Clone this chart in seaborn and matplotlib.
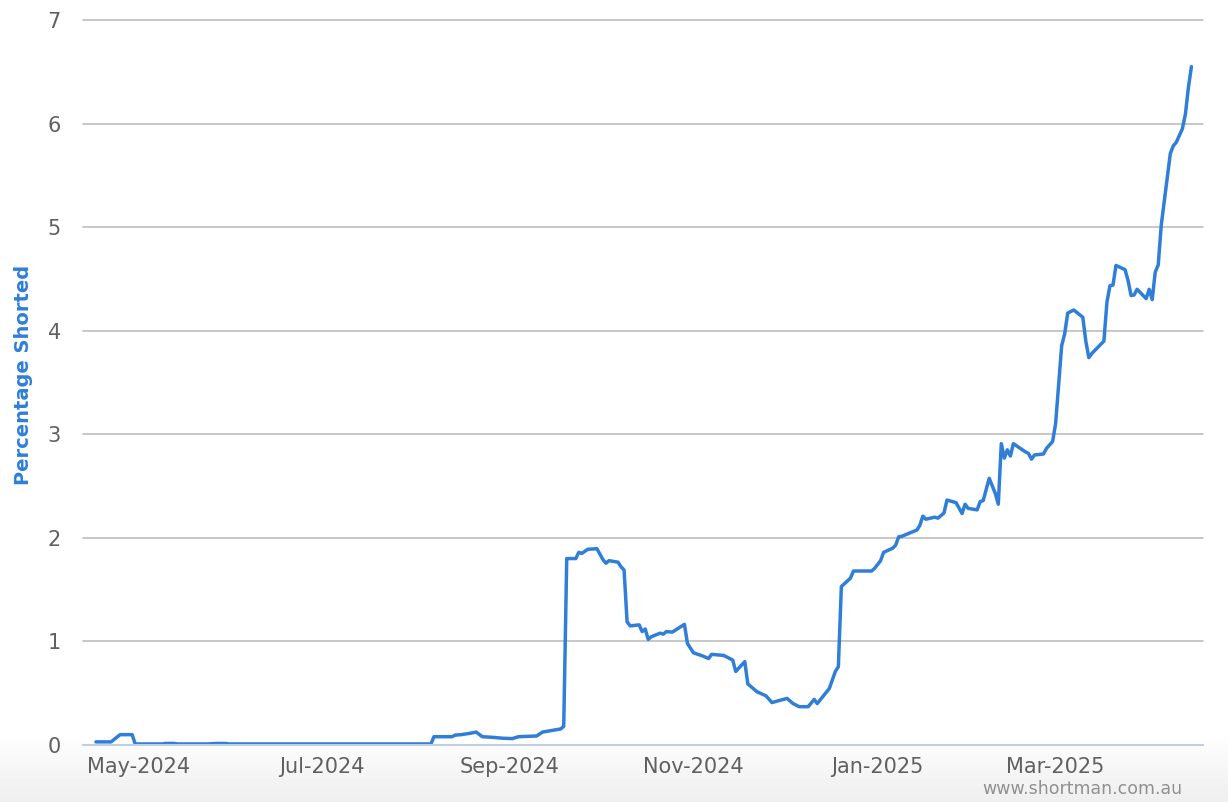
import pandas as pd
import numpy as np
import matplotlib.pyplot as plt
import seaborn as sns

# Series
dates = [
    "2024-04-17", "2024-04-22", "2024-04-25", "2024-04-29", "2024-04-30",
    "2024-05-09", "2024-05-10", "2024-05-13", "2024-05-14",
    "2024-05-24", "2024-05-27", "2024-05-30", "2024-05-31",
    "2024-08-06", "2024-08-07", "2024-08-13", "2024-08-14", "2024-08-16",
    "2024-08-19", "2024-08-21", "2024-08-23", "2024-08-26", "2024-08-30",
    "2024-09-02", "2024-09-04", "2024-09-10", "2024-09-12", "2024-09-16",
    "2024-09-18", "2024-09-19", "2024-09-20", "2024-09-23", "2024-09-24",
    "2024-09-25", "2024-09-27", "2024-09-30", "2024-10-02", "2024-10-03",
    "2024-10-04", "2024-10-07", "2024-10-08", "2024-10-09", "2024-10-10",
    "2024-10-11", "2024-10-14", "2024-10-15", "2024-10-16", "2024-10-17",
    "2024-10-18", "2024-10-21", "2024-10-22", "2024-10-23", "2024-10-25",
    "2024-10-29", "2024-10-30", "2024-11-01", "2024-11-04", "2024-11-06",
    "2024-11-07", "2024-11-11", "2024-11-14", "2024-11-15", "2024-11-18",
    "2024-11-19", "2024-11-22", "2024-11-25", "2024-11-27", "2024-12-02",
    "2024-12-04", "2024-12-06", "2024-12-09", "2024-12-11", "2024-12-12",
    "2024-12-16", "2024-12-18", "2024-12-19", "2024-12-20", "2024-12-23",
    "2024-12-24", "2024-12-30", "2024-12-31", "2025-01-02", "2025-01-03",
    "2025-01-06", "2025-01-07", "2025-01-08", "2025-01-09", "2025-01-14",
    "2025-01-15", "2025-01-16", "2025-01-17", "2025-01-20", "2025-01-21",
    "2025-01-23", "2025-01-24", "2025-01-27", "2025-01-29", "2025-01-30",
    "2025-01-31", "2025-02-03", "2025-02-04", "2025-02-05", "2025-02-07",
    "2025-02-09", "2025-02-10", "2025-02-11", "2025-02-12", "2025-02-13",
    "2025-02-14", "2025-02-15", "2025-02-19", "2025-02-20", "2025-02-21",
    "2025-02-22", "2025-02-25", "2025-02-26", "2025-02-28", "2025-03-01",
    "2025-03-03", "2025-03-04", "2025-03-05", "2025-03-07", "2025-03-10",
    "2025-03-11", "2025-03-12", "2025-03-13", "2025-03-14", "2025-03-17",
    "2025-03-18", "2025-03-19", "2025-03-20", "2025-03-21", "2025-03-24",
    "2025-03-25", "2025-03-26", "2025-03-27", "2025-03-28", "2025-03-31",
    "2025-04-01", "2025-04-02", "2025-04-03", "2025-04-04", "2025-04-05",
    "2025-04-08", "2025-04-09", "2025-04-10", "2025-04-12", "2025-04-13",
    "2025-04-14", "2025-04-15",
]
pct_shorted = [
    0.03, 0.03, 0.10, 0.10, 0.01,
    0.01, 0.015, 0.015, 0.01,
    0.01, 0.015, 0.015, 0.01,
    0.01, 0.08, 0.08, 0.095, 0.10,
    0.113, 0.125, 0.08, 0.075, 0.065,
    0.062, 0.08, 0.087, 0.125, 0.145,
    0.155, 0.18, 1.80, 1.80, 1.86,
    1.85, 1.89, 1.895, 1.79, 1.755,
    1.78, 1.765, 1.72, 1.69, 1.19,
    1.15, 1.16, 1.095, 1.12, 1.02,
    1.045, 1.08, 1.07, 1.095, 1.09,
    1.165, 0.98, 0.89, 0.86, 0.835,
    0.875, 0.865, 0.82, 0.71, 0.805,
    0.59, 0.515, 0.475, 0.41, 0.45,
    0.40, 0.37, 0.37, 0.44, 0.40,
    0.545, 0.71, 0.755, 1.53, 1.61,
    1.68, 1.68, 1.705, 1.78, 1.86,
    1.90, 1.93, 2.01, 2.015, 2.075,
    2.12, 2.21, 2.18, 2.20, 2.19,
    2.24, 2.365, 2.34, 2.235, 2.325,
    2.285, 2.27, 2.35, 2.36, 2.575,
    2.43, 2.325, 2.91, 2.77, 2.85,
    2.79, 2.91, 2.83, 2.815, 2.76,
    2.80, 2.81, 2.865, 2.93, 3.105,
    3.855, 3.97, 4.17, 4.20, 4.13,
    3.90, 3.74, 3.78, 3.81, 3.90,
    4.275, 4.435, 4.44, 4.63, 4.59,
    4.485, 4.34, 4.345, 4.40, 4.31,
    4.40, 4.30, 4.565, 4.635, 5.02,
    5.71, 5.785, 5.82, 5.95, 6.09,
    6.35, 6.55,
]

tick_dates = ["2024-05-01", "2024-07-01", "2024-09-01",
              "2024-11-01", "2025-01-01", "2025-03-01"]
tick_labels = ["May-2024", "Jul-2024", "Sep-2024",
               "Nov-2024", "Jan-2025", "Mar-2025"]

df = pd.DataFrame({"date": pd.to_datetime(dates), "pct": pct_shorted})

sns.set_style("white")
plt.rcParams["font.family"] = ["DejaVu Sans"]

fig = plt.figure(figsize=(12.28, 8.02), dpi=100)

# light gradient at the bottom of the chart background
bg = fig.add_axes([0, 0, 1, 1], zorder=-10)
rows = np.linspace(1, 0, 802)
cut = 70 / 802
shade = np.where(rows > cut, 1.0, 0.935 + 0.065 * rows / cut)
bg.imshow(shade[:, None], cmap="gray", vmin=0, vmax=1, aspect="auto",
          extent=[0, 1, 0, 1])
bg.axis("off")

ax = fig.add_axes([83 / 1228, 57 / 802, 1120 / 1228, 725 / 802])
ax.set_facecolor("white")

sns.lineplot(data=df, x="date", y="pct", ax=ax, color="#2f7ed8",
             linewidth=2.5)

ax.set_ylim(0, 7)
ax.set_yticks(range(8))
ax.set_xlim(pd.Timestamp("2024-04-12 17:00"), pd.Timestamp("2025-04-18 20:00"))
ax.set_xticks(pd.to_datetime(tick_dates))
ax.set_xticklabels(tick_labels)

ax.yaxis.grid(True, color="#bdbdbd", linewidth=1.2)
ax.xaxis.grid(False)
ax.set_axisbelow(True)
for gl in ax.get_ygridlines():
    gl.set_clip_on(False)

for side in ["top", "left", "right"]:
    ax.spines[side].set_visible(False)
ax.spines["bottom"].set_color("#c0d0e0")
ax.spines["bottom"].set_linewidth(1.5)

ax.tick_params(axis="x", length=7, width=1.2, color="#c0d0e0",
               labelsize=15, labelcolor="#606060", pad=1.5)
ax.tick_params(axis="y", length=0, labelsize=15, labelcolor="#606060", pad=16)

ax.set_xlabel("")
ax.set_ylabel("")
fig.text(24 / 1228, 1 - 375 / 802, "Percentage Shorted", rotation=90,
         ha="center", va="center", fontsize=14, fontweight="bold",
         color="#2f7ed8")

fig.text(1182 / 1228, 1 - 789 / 802, "www.shortman.com.au", ha="right",
         va="center", fontsize=12.5, color="#909090")

fig.savefig("out.png", dpi=100)
